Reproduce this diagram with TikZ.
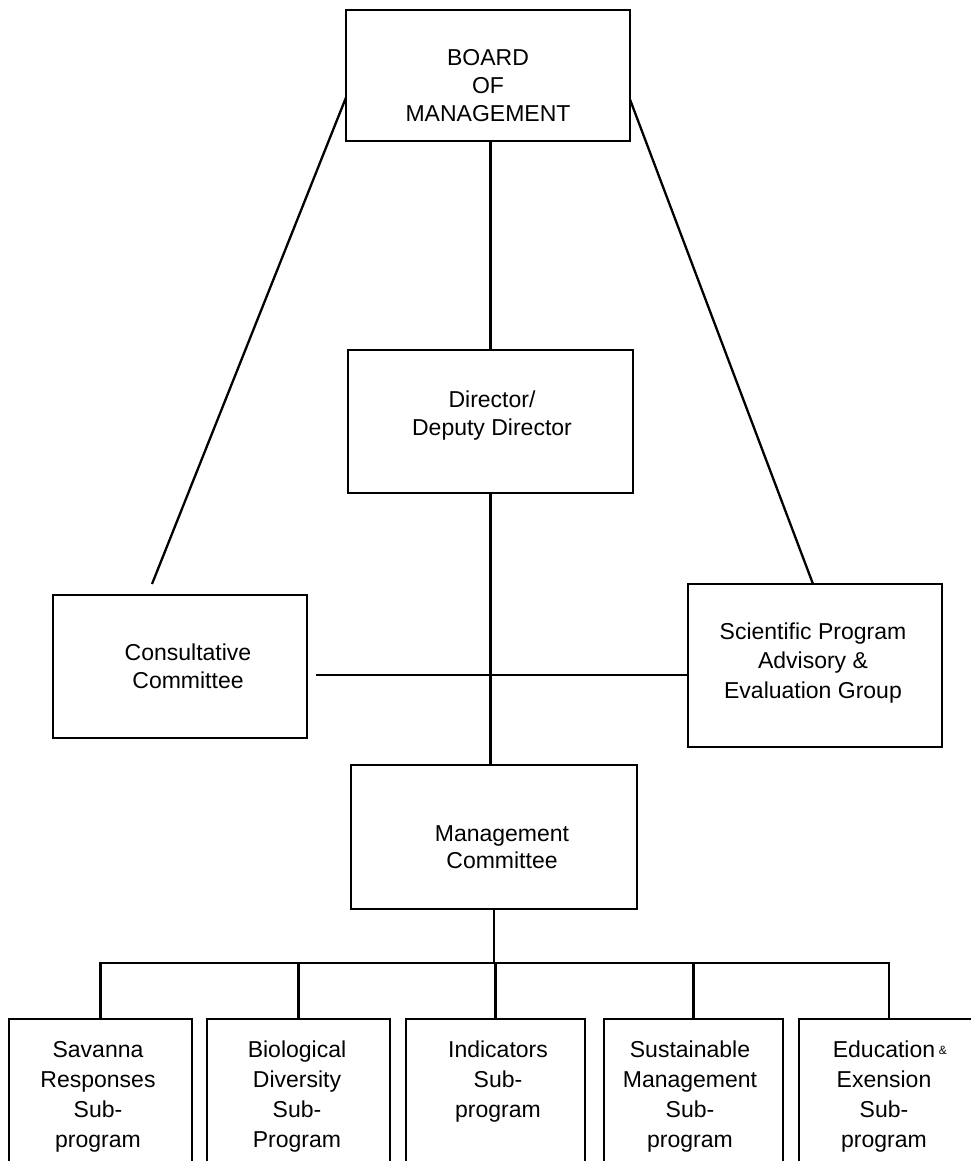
\documentclass[tikz,border=0pt]{standalone}
\usepackage{fontspec}
\setmainfont{Liberation Sans}
\begin{document}
\begin{tikzpicture}[x=1pt,y=-1pt,
  box/.style={draw=black, line width=2.8pt, rectangle, inner sep=0pt, outer sep=0pt, fill=none},
  conn/.style={draw=black, line width=2.3pt},
  lbl/.style={inner sep=0pt, align=center, font=\fontsize{23}{28}\selectfont},
  sublbl/.style={inner sep=0pt, align=center, anchor=north, font=\fontsize{23}{30}\selectfont}]
\useasboundingbox (0,0) rectangle (971,1161);
\clip (0,0) rectangle (971,1161);
\fill[white] (0,0) rectangle (971,1161);

% boxes
\node[box, minimum width=284pt, minimum height=131pt] (board) at (488,75.5) {};
\node[box, minimum width=285pt, minimum height=143pt] (director) at (490.5,421.5) {};
\node[box, minimum width=254pt, minimum height=143pt] (consult) at (180,666.5) {};
\node[box, minimum width=254pt, minimum height=163pt] (sci) at (815,665.5) {};
\node[box, minimum width=286pt, minimum height=144pt] (mgmt) at (494,837) {};
\node[box, minimum width=183pt, minimum height=171pt] (sav) at (100.5,1104.5) {};
\node[box, minimum width=183pt, minimum height=171pt] (bio) at (298.5,1104.5) {};
\node[box, minimum width=179pt, minimum height=171pt] (ind) at (495.5,1104.5) {};
\node[box, minimum width=179pt, minimum height=171pt] (sus) at (693.5,1104.5) {};
\node[box, minimum width=180pt, minimum height=171pt] (edu) at (889,1104.5) {};

% labels
\node[lbl] (tboard) at (488,86) {BOARD\\OF\\MANAGEMENT};
\node[lbl] (tdirector) at (492,416) {Director/\\Deputy Director};
\node[lbl] (tconsult) at (188,666) {Consultative\\Committee};
\node[lbl, font=\fontsize{23}{29.5}\selectfont] (tsci) at (813,663) {Scientific Program\\Advisory \&\\Evaluation Group};
\node[lbl, font=\fontsize{23}{27}\selectfont] (tmgmt) at (502,847) {Management\\Committee};
\node[sublbl] (tsav) at (98,1041) {Savanna\\Responses\\Sub-\\program};
\node[sublbl] (tbio) at (297,1041) {Biological\\Diversity\\Sub-\\Program};
\node[sublbl] (tind) at (498,1041) {Indicators\\Sub-\\program};
\node[sublbl] (tsus) at (690,1041) {Sustainable\\Management\\Sub-\\program};
\node[sublbl] (tedu) at (884,1041) {Education\rlap{\,\raisebox{3pt}{\fontsize{12}{12}\selectfont\&}}\\Exension\\Sub-\\program};

% coordinates
\coordinate (cctop) at (152,584);
\coordinate (hl) at (316,675);
\coordinate (bus) at (0,963);

% connectors
\draw[conn] ([yshift=-22pt]board.west) -- (cctop);
\draw[conn] ([yshift=-24pt]board.east) -- ([xshift=-2pt]sci.north);
\draw[conn] (director.north |- board.south) -- (director.north);
\draw[conn] (director.south) -- (director.south |- mgmt.north);
\draw[conn] (hl) -- (hl -| sci.west);
\draw[conn] (mgmt.south) -- (mgmt.south |- bus);
\draw[conn] ([xshift=-1.5pt]sav.north |- bus) -- ([xshift=1pt]edu.north |- bus);
\draw[conn] (sav.north |- bus) -- (sav.north);
\draw[conn] (bio.north |- bus) -- (bio.north);
\draw[conn] (ind.north |- bus) -- (ind.north);
\draw[conn] (sus.north |- bus) -- (sus.north);
\draw[conn] (edu.north |- bus) -- (edu.north);
\end{tikzpicture}
\end{document}
